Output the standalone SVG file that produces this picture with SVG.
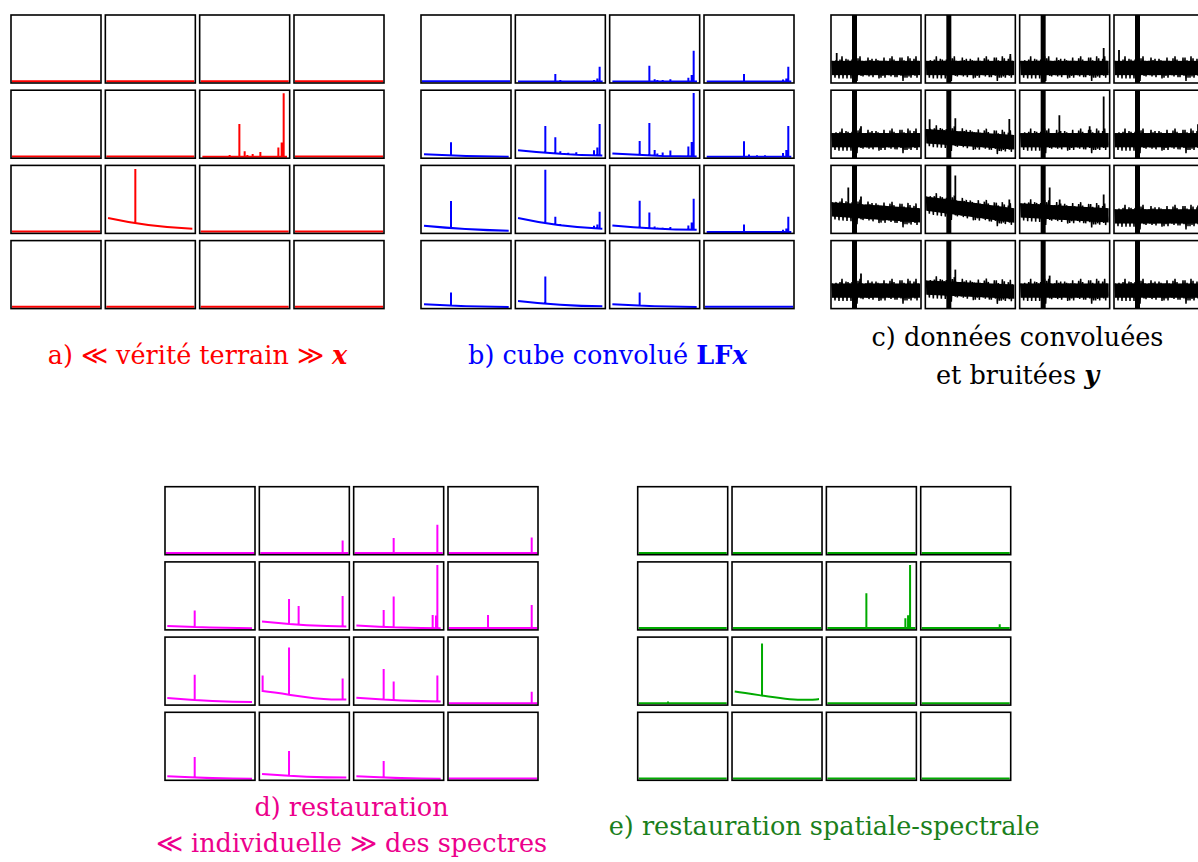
<svg xmlns="http://www.w3.org/2000/svg" width="1198" height="862" viewBox="0 0 1198 862">
<style>
.bi{font-weight:bold;font-style:italic}
.b{font-weight:bold}
.r{stroke:#ff0000;stroke-width:2;fill:none}
.bl{stroke:#0000ff;stroke-width:2;fill:none}
.m{stroke:#ff00ff;stroke-width:2;fill:none}
.g{stroke:#00aa00;stroke-width:2;fill:none}
.k{stroke:#000;stroke-width:1.8;fill:none}
</style>
<defs>
<rect id="box" x="0" y="0" width="90" height="68" fill="none" stroke="#000" stroke-width="1.6"/>
<path id="flat" d="M1,66.2 H89"/>
<g id="noise">
<rect x="1" y="-5.5" width="88" height="11" fill="#000"/>
<polyline fill="none" stroke="#000" stroke-width="1.5" points="1,-5.5 2,5 3,-4.5 4,7.5 5,-6 6,4.5 7,-4.5 8,8 9,-6.5 10,5 11,-9 12,8 13,-5 14,4.5 15,-7 16,8 17,-6.5 18,5 19,-5.5 20,8 21,-6.5 22,6 23,-8 24,6.5 25,-9 26,10 27,-7.5 28,4 29,-9 30,6 31,-5.5 32,6.5 33,-5 34,5 35,-5.5 36,5.5 37,-8 38,6.5 39,-6 40,5.5 41,-7 42,7 43,-5 44,4 45,-7 46,5 47,-6 48,8 49,-5.5 50,7.5 51,-5.5 52,6 53,-8 54,7.5 55,-5.5 56,4.5 57,-5 58,5.5 59,-7.5 60,6.5 61,-9 62,5 63,-6.5 64,7 65,-4 66,7 67,-5 68,5 69,-8 70,6 71,-8 72,10 73,-6 74,7.5 75,-4.5 76,7.5 77,-9 78,6.5 79,-7.5 80,7.5 81,-4.5 82,5 83,-7 84,6 85,-9 86,7.5 87,-5.5 88,4"/>
</g>
<rect id="bar" x="21" y="0" width="5" height="68" fill="#000"/>
</defs>
<rect width="1198" height="862" fill="#fff"/>

<!-- Panel a -->
<g id="panel-a" transform="translate(11,15)">
<g transform="translate(0,0)"><use href="#flat" class="r"/><use href="#box"/></g>
<g transform="translate(94.33,0)"><use href="#flat" class="r"/><use href="#box"/></g>
<g transform="translate(188.67,0)"><use href="#flat" class="r"/><use href="#box"/></g>
<g transform="translate(283,0)"><use href="#flat" class="r"/><use href="#box"/></g>
<g transform="translate(0,75.2)"><use href="#flat" class="r"/><use href="#box"/></g>
<g transform="translate(94.33,75.2)"><use href="#flat" class="r"/><use href="#box"/></g>
<g transform="translate(188.67,75.2)"><path class="r" d="M2.7,66.5 H87.3 M30,66.5 V64.7 M39.7,66.5 V33.7 M45,66.5 V61 M47.7,66.5 V64.7 M53,66.5 V63.7 M60.7,66.5 V61.7 M78.7,66.5 V57.3 M82,66.5 V52.3 M84,66.5 V3"/><use href="#box"/></g>
<g transform="translate(283,75.2)"><use href="#flat" class="r"/><use href="#box"/></g>
<g transform="translate(0,150.4)"><use href="#flat" class="r"/><use href="#box"/></g>
<g transform="translate(94.33,150.4)"><path class="r" d="M2.7,52.7 Q45,62 87,63.3 M30,58 V3.7"/><use href="#box"/></g>
<g transform="translate(188.67,150.4)"><use href="#flat" class="r"/><use href="#box"/></g>
<g transform="translate(283,150.4)"><use href="#flat" class="r"/><use href="#box"/></g>
<g transform="translate(0,225.6)"><use href="#flat" class="r"/><use href="#box"/></g>
<g transform="translate(94.33,225.6)"><use href="#flat" class="r"/><use href="#box"/></g>
<g transform="translate(188.67,225.6)"><use href="#flat" class="r"/><use href="#box"/></g>
<g transform="translate(283,225.6)"><use href="#flat" class="r"/><use href="#box"/></g>
</g>

<!-- Panel b -->
<g id="panel-b" transform="translate(421,15)">
<g transform="translate(0,0)"><use href="#flat" class="bl"/><use href="#box"/></g>
<g transform="translate(94.33,0)"><path class="bl" d="M2.7,66.5 H87.3 M40,66.5 V59 M45,66.5 V65 M53,66.5 V65.5 M61,66.5 V65.5 M78.7,66.5 V65 M82,66.5 V63.5 M84.3,66.5 V51.7"/><use href="#box"/></g>
<g transform="translate(188.67,0)"><path class="bl" d="M2.7,66.5 H87.3 M30,66.5 V65.5 M39.7,66.5 V50.7 M45,66.5 V64.3 M47.7,66.5 V65 M53,66.5 V65 M60.7,66.5 V64.3 M78.7,66.5 V62.7 M82,66.5 V60 M84,66.5 V35.7"/><use href="#box"/></g>
<g transform="translate(283,0)"><path class="bl" d="M2.7,66.5 H87.3 M40,66.5 V59 M45,66.5 V65.5 M61,66.5 V65.5 M79,66.5 V64.5 M82.3,66.5 V63.5 M84.3,66.5 V51.7"/><use href="#box"/></g>
<g transform="translate(0,75.2)"><path class="bl" d="M3,64 Q45,66.3 87.7,66.5 M30,65.3 V52"/><use href="#box"/></g>
<g transform="translate(94.33,75.2)"><path class="bl" d="M2.7,60 Q45,64.5 87,65.3 M30,63 V35.7 M40,63.6 V47 M45,64 V61 M53,64.4 V62.5 M61,64.7 V62 M78.7,65.1 V60 M82,65.2 V57.3 M84.3,65.3 V33.7"/><use href="#box"/></g>
<g transform="translate(188.67,75.2)"><path class="bl" d="M2.7,63.3 Q45,66 87,66.3 M30,65 V50.7 M39.7,65.4 V32.7 M45,65.6 V59.7 M47.7,65.7 V63.3 M53,65.9 V62.3 M60.7,66 V60.3 M78.7,66.2 V56.3 M82,66.3 V51.7 M84,66.3 V2.7"/><use href="#box"/></g>
<g transform="translate(283,75.2)"><path class="bl" d="M2.7,66.5 H87.3 M40,66.5 V51 M45,66.5 V64.3 M53,66.5 V65 M61,66.5 V65 M79,66.5 V62.7 M82.3,66.5 V59.7 M84.3,66.5 V35.7"/><use href="#box"/></g>
<g transform="translate(0,150.4)"><path class="bl" d="M3,60.3 Q45,64.5 87.7,65.3 M30,63 V35.7"/><use href="#box"/></g>
<g transform="translate(94.33,150.4)"><path class="bl" d="M2.7,52.7 Q45,62 87,63.3 M30,57.8 V4.3 M40,59.4 V51.3 M45,60.2 V58.7 M61,61.8 V60.8 M78.7,62.9 V60.3 M82,63.1 V59 M84.3,63.2 V46.3"/><use href="#box"/></g>
<g transform="translate(188.67,150.4)"><path class="bl" d="M2.7,60 Q45,64 87,64.3 M30,62.4 V35.3 M39.7,63 V47 M45,63.3 V61 M47.7,63.4 V62 M53,63.6 V62.3 M60.7,63.9 V61.7 M78.7,64.2 V60 M82,64.3 V57 M84,64.3 V33.3"/><use href="#box"/></g>
<g transform="translate(283,150.4)"><path class="bl" d="M2.7,66.5 H87.3 M40,66.5 V59 M45,66.5 V65.5 M79,66.5 V64.3 M82.3,66.5 V63 M84.3,66.5 V51.3"/><use href="#box"/></g>
<g transform="translate(0,225.6)"><path class="bl" d="M3,63.7 Q45,66.3 87.7,66.5 M30,65.2 V52"/><use href="#box"/></g>
<g transform="translate(94.33,225.6)"><path class="bl" d="M2.7,60.3 Q45,65.2 87,65.7 M30,63.2 V36"/><use href="#box"/></g>
<g transform="translate(188.67,225.6)"><path class="bl" d="M2.7,63.7 Q45,66.3 87,66.5 M30,65.2 V52"/><use href="#box"/></g>
<g transform="translate(283,225.6)"><use href="#flat" class="bl"/><use href="#box"/></g>
</g>

<!-- Panel c -->
<g id="panel-c" transform="translate(831,15)">
<g transform="translate(0,0)"><use href="#noise" transform="matrix(1,0,0,1.3,0,53)"/><path class="k" d="M5.7,50 V38"/><use href="#bar"/><use href="#box"/></g>
<g transform="translate(94.33,0)"><use href="#noise" transform="matrix(1,0,0,1.3,0,53)"/><path class="k" d="M85,50 V39"/><use href="#bar"/><use href="#box"/></g>
<g transform="translate(188.67,0)"><use href="#noise" transform="matrix(1,0,0,1.3,0,53)"/><path class="k" d="M84,50 V33"/><use href="#bar"/><use href="#box"/></g>
<g transform="translate(283,0)"><use href="#noise" transform="matrix(1,0,0,1.3,0,53)"/><path class="k" d="M5,50 V35"/><use href="#bar"/><use href="#box"/></g>
<g transform="translate(0,75.2)"><use href="#noise" transform="matrix(1,0,0,1.3,0,50)"/><path class="k" d="M30,48 V36"/><use href="#bar"/><use href="#box"/></g>
<g transform="translate(94.33,75.2)"><use href="#noise" transform="matrix(1,0.068,0,1.3,0,46)"/><path class="k" d="M4.3,44 V29 M30,46 V28 M84,50 V28.7"/><use href="#bar"/><use href="#box"/></g>
<g transform="translate(188.67,75.2)"><use href="#noise" transform="matrix(1,0,0,1.3,0,50)"/><path class="k" d="M39.7,48 V25 M84,48 V6.3 M70,48 V36"/><use href="#bar"/><use href="#box"/></g>
<g transform="translate(283,75.2)"><use href="#noise" transform="matrix(1,0,0,1.3,0,50)"/><path class="k" d="M84,48 V34"/><use href="#bar"/><use href="#box"/></g>
<g transform="translate(0,150.4)"><use href="#noise" transform="matrix(1,0.068,0,1.3,0,44)"/><path class="k" d="M17.3,44 V22 M30,45 V31"/><use href="#bar"/><use href="#box"/></g>
<g transform="translate(94.33,150.4)"><use href="#noise" transform="matrix(1,0.136,0,1.3,0,38)"/><path class="k" d="M30,40 V10 M84,48 V34"/><use href="#bar"/><use href="#box"/></g>
<g transform="translate(188.67,150.4)"><use href="#noise" transform="matrix(1,0.057,0,1.3,0,45)"/><path class="k" d="M30,45 V22 M40,46 V34 M84,48 V29"/><use href="#bar"/><use href="#box"/></g>
<g transform="translate(283,150.4)"><use href="#noise" transform="matrix(1,0,0,1.3,0,51)"/><path class="k" d="M84,49 V40"/><use href="#bar"/><use href="#box"/></g>
<g transform="translate(0,225.6)"><use href="#noise" transform="matrix(1,0,0,1.3,0,50)"/><path class="k" d="M30,48 V33"/><use href="#bar"/><use href="#box"/></g>
<g transform="translate(94.33,225.6)"><use href="#noise" transform="matrix(1,0.045,0,1.3,0,47)"/><path class="k" d="M30,47 V29"/><use href="#bar"/><use href="#box"/></g>
<g transform="translate(188.67,225.6)"><use href="#noise" transform="matrix(1,0,0,1.3,0,50)"/><path class="k" d="M30,48 V35"/><use href="#bar"/><use href="#box"/></g>
<g transform="translate(283,225.6)"><use href="#noise" transform="matrix(1,0,0,1.3,0,50)"/><use href="#bar"/><use href="#box"/></g>
</g>

<!-- Panel d -->
<g id="panel-d" transform="translate(165,486.7)">
<g transform="translate(0,0)"><use href="#flat" class="m"/><use href="#box"/></g>
<g transform="translate(94.33,0)"><path class="m" d="M1,66.2 H89 M83.3,66.5 V53.7"/><use href="#box"/></g>
<g transform="translate(188.67,0)"><path class="m" d="M1,66.2 H89 M40,66.5 V51.3 M83.7,66.5 V38"/><use href="#box"/></g>
<g transform="translate(283,0)"><path class="m" d="M1,66.2 H89 M83.7,66.5 V50.7"/><use href="#box"/></g>
<g transform="translate(0,75.2)"><path class="m" d="M2.3,64 Q45,66 87,66.3 M29.7,65 V48.7"/><use href="#box"/></g>
<g transform="translate(94.33,75.2)"><path class="m" d="M2.7,59.7 Q50,64.5 87,64.7 M29.7,62 V37 M39.3,62.8 V44 M83.3,64.7 V34"/><use href="#box"/></g>
<g transform="translate(188.67,75.2)"><path class="m" d="M2.7,63.7 Q50,66.3 87,66.3 M30,65 V48 M40,65.4 V34.7 M79,66.2 V53 M82.3,66.3 V53.7 M83.7,66.3 V3"/><use href="#box"/></g>
<g transform="translate(283,75.2)"><path class="m" d="M1,66.2 H89 M40,66.5 V53 M83.7,66.5 V43"/><use href="#box"/></g>
<g transform="translate(0,150.4)"><path class="m" d="M2.3,61 Q50,65 87,65 M29.7,62.8 V37.7"/><use href="#box"/></g>
<g transform="translate(94.33,150.4)"><path class="m" d="M3.3,38.3 V54 C30,57 50,62 72,62.3 H87 M29.7,57.2 V10.3 M83.3,62.3 V41.3"/><use href="#box"/></g>
<g transform="translate(188.67,150.4)"><path class="m" d="M2.7,60.7 Q50,64.3 87,64.3 M30,62.3 V32 M40,62.9 V44.3 M83.7,64.3 V38.3"/><use href="#box"/></g>
<g transform="translate(283,150.4)"><path class="m" d="M1,66.2 H89 M83.7,66.5 V54.7"/><use href="#box"/></g>
<g transform="translate(0,225.6)"><path class="m" d="M2.3,64 Q50,66.5 87,66.5 M29.7,65.3 V44.7"/><use href="#box"/></g>
<g transform="translate(94.33,225.6)"><path class="m" d="M2.7,61.7 Q50,65.3 87,65.3 M29.7,63.4 V38.7"/><use href="#box"/></g>
<g transform="translate(188.67,225.6)"><path class="m" d="M2.7,64 Q50,66.5 87,66.5 M30,65.3 V48.7"/><use href="#box"/></g>
<g transform="translate(283,225.6)"><use href="#flat" class="m"/><use href="#box"/></g>
</g>

<!-- Panel e -->
<g id="panel-e" transform="translate(637.7,486.7)">
<g transform="translate(0,0)"><use href="#flat" class="g"/><use href="#box"/></g>
<g transform="translate(94.33,0)"><use href="#flat" class="g"/><use href="#box"/></g>
<g transform="translate(188.67,0)"><use href="#flat" class="g"/><use href="#box"/></g>
<g transform="translate(283,0)"><use href="#flat" class="g"/><use href="#box"/></g>
<g transform="translate(0,75.2)"><use href="#flat" class="g"/><use href="#box"/></g>
<g transform="translate(94.33,75.2)"><use href="#flat" class="g"/><use href="#box"/></g>
<g transform="translate(188.67,75.2)"><path class="g" d="M1,66.2 H89 M40,66.5 V31.3 M79,66.5 V56.3 M81.7,66.5 V53.3 M83.7,66.5 V3"/><use href="#box"/></g>
<g transform="translate(283,75.2)"><path class="g" d="M1,66.2 H89 M79,66.5 V62.3"/><use href="#box"/></g>
<g transform="translate(0,150.4)"><path class="g" d="M1,66.2 H89 M30.3,66.5 V64.5"/><use href="#box"/></g>
<g transform="translate(94.33,150.4)"><path class="g" d="M2.7,54.3 C30,58 50,62.7 69,62.7 S85,62 87,62 M30,58 V6.3"/><use href="#box"/></g>
<g transform="translate(188.67,150.4)"><use href="#flat" class="g"/><use href="#box"/></g>
<g transform="translate(283,150.4)"><use href="#flat" class="g"/><use href="#box"/></g>
<g transform="translate(0,225.6)"><use href="#flat" class="g"/><use href="#box"/></g>
<g transform="translate(94.33,225.6)"><use href="#flat" class="g"/><use href="#box"/></g>
<g transform="translate(188.67,225.6)"><use href="#flat" class="g"/><use href="#box"/></g>
<g transform="translate(283,225.6)"><use href="#flat" class="g"/><use href="#box"/></g>
</g>

<!-- Labels -->
<g id="labels">
<text font-family="DejaVu Serif, serif" font-size="25.5" x="197.5" y="364" text-anchor="middle" fill="#ff0000">a) ≪ vérité terrain ≫ <tspan class="bi">x</tspan></text>
<text font-family="DejaVu Serif, serif" font-size="25.5" x="607.8" y="364" text-anchor="middle" fill="#0000ff">b) cube convolué <tspan class="b">LF</tspan><tspan class="bi">x</tspan></text>
<text font-family="DejaVu Serif, serif" font-size="25.5" x="1017.5" y="346" text-anchor="middle" fill="#000">c) données convoluées</text>
<text font-family="DejaVu Serif, serif" font-size="25.5" x="1017.5" y="384" text-anchor="middle" fill="#000">et bruitées <tspan class="bi">y</tspan></text>
<text font-family="DejaVu Serif, serif" font-size="25.5" x="351.5" y="816" text-anchor="middle" fill="#ec008c">d) restauration</text>
<text font-family="DejaVu Serif, serif" font-size="25.5" x="351.5" y="852" text-anchor="middle" fill="#ec008c">≪ individuelle ≫ des spectres</text>
<text font-family="DejaVu Serif, serif" font-size="25.5" x="824.2" y="835" text-anchor="middle" fill="#1b7f1b">e) restauration spatiale-spectrale</text>
</g>
</svg>
